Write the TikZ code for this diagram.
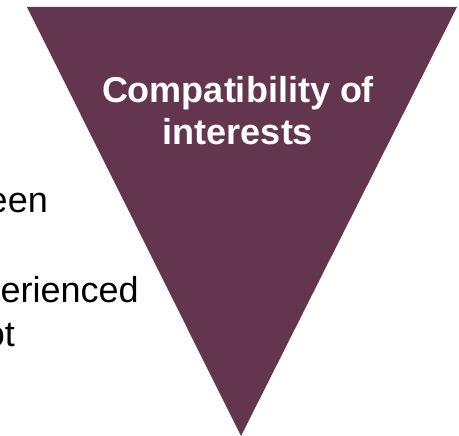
\documentclass[tikz,border=0pt]{standalone}
\usepackage{fontspec}
\setmainfont{Liberation Sans}
\usepackage{tikz}
\definecolor{plum}{RGB}{99,53,79}
\tikzset{sidetext/.style={anchor=base east, inner sep=0pt, text=black, font=\fontsize{36}{42}\selectfont}}

\begin{document}
\begin{tikzpicture}[x=1pt,y=-1pt]
		%%%%% START %%%%%
		
		\useasboundingbox (0,0) rectangle (459,436);
		\clip (0,0) rectangle (459,436);
		
		\fill[plum] (27,7) -- (457,7) -- (241,436) -- cycle;
		
		\node[anchor=base, inner sep=0pt, align=center, text=white, font=\bfseries\fontsize{36}{42}\selectfont] (title) at (238,145) {Compatibility of\\interests};
		
		\node[sidetext] (betweenpart) at (48,213) {een};
		\node[sidetext] (experiencedpart) at (139,303) {erienced};
		\node[sidetext] (notpart) at (15,347) {ot};
		
		%%%%% END %%%%%
\end{tikzpicture}
\end{document}
